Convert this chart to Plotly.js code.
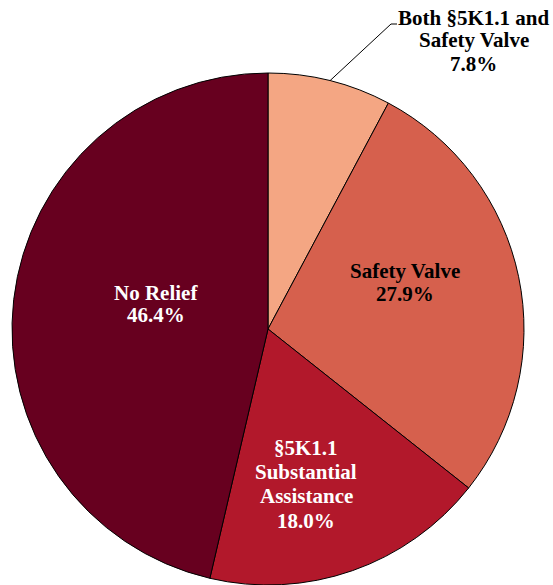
<!DOCTYPE html>
<html>
<head>
<meta charset="utf-8">
<script src="https://cdn.plot.ly/plotly-3.0.1.min.js"></script>
<style>html,body{margin:0;padding:0;background:#fff;}#chart{width:553px;height:585px;}</style>
</head>
<body>
<div id="chart"></div>
<script>
// ---- data ----
const categories = ["Both §5K1.1 and<br>Safety Valve", "Safety Valve", "§5K1.1<br>Substantial<br>Assistance", "No Relief"];
const shares = [7.8, 27.9, 18.0, 46.4];
const sliceColors = ["#F4A683", "#D6604D", "#B2182B", "#67001F"];
const labelColors = ["#000000", "#000000", "#FFFFFF", "#FFFFFF"];

// ---- layout geometry (pixels) ----
const W = 553, H = 585;
const cx = 268, cy = 329, R = 256;
// label block placement: centre x, centre y of first line, line step
const LABEL_POS = [
  { x: 473.5, y: 17.5, step: 23 },
  { x: 404.5, y: 270.5, step: 23.5 },
  { x: 306, y: 448, step: 24.2 },
  { x: 156, y: 292.5, step: 22.5 }
];
const FONT = "Liberation Serif, Times New Roman, serif";

const px = x => x / W;
const py = y => 1 - y / H;

const trace = {
  type: "pie",
  labels: categories,
  values: shares,
  sort: false,
  direction: "clockwise",
  rotation: 0,
  marker: { colors: sliceColors, line: { color: "#000000", width: 1 } },
  textinfo: "none",
  hoverinfo: "skip",
  showlegend: false,
  automargin: false,
  domain: { x: [px(cx - R), px(cx + R)], y: [py(cy + R), py(cy - R)] }
};

const annotations = [];
categories.forEach((cat, i) => {
  const lines = cat.split("<br>").concat([shares[i].toFixed(1) + "%"]);
  const p = LABEL_POS[i];
  lines.forEach((ln, k) => {
    annotations.push({
      xref: "paper", yref: "paper",
      x: px(p.x), y: py(p.y + k * p.step),
      xanchor: "center", yanchor: "middle",
      text: "<b>" + ln + "</b>",
      showarrow: false,
      font: { family: FONT, size: 21, color: labelColors[i] }
    });
  });
});

// leader line for the small outside-labelled slice, from the slice's mid-angle on the rim
const total = shares.reduce((a, b) => a + b, 0);
const midAngle = (shares[0] / 2) / total * 2 * Math.PI;
const ex = cx + R * Math.sin(midAngle), ey = cy - R * Math.cos(midAngle);
const shapes = [{
  type: "path", xref: "paper", yref: "paper",
  path: `M ${px(ex)} ${py(ey)} L ${px(391)} ${py(24)} L ${px(397)} ${py(24)}`,
  line: { color: "#000000", width: 1 }
}];

Plotly.newPlot("chart", [trace], {
  width: W, height: H,
  margin: { l: 0, r: 0, t: 0, b: 0 },
  paper_bgcolor: "#ffffff",
  showlegend: false,
  annotations: annotations,
  shapes: shapes
}, { staticPlot: true, displayModeBar: false });
</script>
</body>
</html>
